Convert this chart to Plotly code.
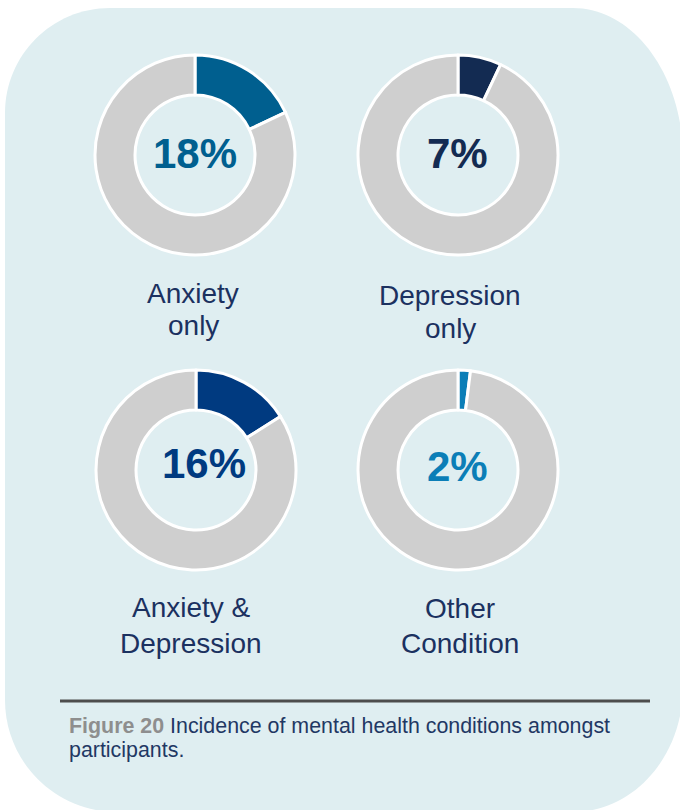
import plotly.graph_objects as go

# --- data -------------------------------------------------------------
conditions = ["Anxiety only", "Depression only", "Anxiety & Depression", "Other Condition"]
label_lines = [["Anxiety", "only"], ["Depression", "only"],
               ["Anxiety &", "Depression"], ["Other", "Condition"]]
percentages = [18, 7, 16, 2]
slice_colors = ["#005F8F", "#132B52", "#003A80", "#0B7EB7"]
caption_prefix = "Figure 20"
caption_lines = ["Incidence of mental health conditions amongst", "participants."]

# --- layout constants (pixels) -----------------------------------------
W, H = 680, 810
REST_COLOR = "#CFCFCF"
PANEL_COLOR = "#DFEEF1"
TEXT_NAVY = "#1B3160"
FONT = "Liberation Sans, Arial, sans-serif"

centers = [(195, 155), (458, 155), (196, 470), (458, 470)]
radius = 100
pct_pos = [(195, 153), (457, 153), (204, 463), (457, 467)]
label_x = [193, 450, 191, 460]
label_y = [(293, 325), (295, 328), (607, 643), (608, 643)]


def px(x):
    return x / W


def py(y):
    return 1 - y / H


fig = go.Figure()

for i, name in enumerate(conditions):
    cx, cy = centers[i]
    fig.add_trace(go.Pie(
        labels=[name, "Other participants"],
        values=[percentages[i], 100 - percentages[i]],
        marker=dict(colors=[slice_colors[i], REST_COLOR],
                    line=dict(color="white", width=3)),
        hole=0.6,
        sort=False,
        direction="clockwise",
        rotation=0,
        textinfo="none",
        hoverinfo="label+percent",
        showlegend=False,
        domain=dict(x=[px(cx - radius), px(cx + radius)],
                    y=[py(cy + radius), py(cy - radius)]),
    ))

annotations = []
for i in range(len(conditions)):
    # centre value
    x, y = pct_pos[i]
    annotations.append(dict(
        x=px(x), y=py(y), xref="paper", yref="paper",
        text=f"<b>{percentages[i]}%</b>", showarrow=False,
        xanchor="center", yanchor="middle",
        font=dict(family=FONT, size=42, color=slice_colors[i]),
    ))
    # category label under each donut
    for line, ly in zip(label_lines[i], label_y[i]):
        annotations.append(dict(
            x=px(label_x[i]), y=py(ly), xref="paper", yref="paper",
            text=line, showarrow=False, xanchor="center", yanchor="middle",
            font=dict(family=FONT, size=28, color=TEXT_NAVY),
        ))

# caption
annotations.append(dict(
    x=px(67), y=py(726), xref="paper", yref="paper", showarrow=False,
    xanchor="left", yanchor="middle",
    text=f"<b><span style='color:#8E8E8E'>{caption_prefix}</span></b> {caption_lines[0]}",
    font=dict(family=FONT, size=21.4, color="#1F3864"),
))
annotations.append(dict(
    x=px(67), y=py(750), xref="paper", yref="paper", showarrow=False,
    xanchor="left", yanchor="middle", text=caption_lines[1],
    font=dict(family=FONT, size=21.4, color="#1F3864"),
))


def panel_path(left, top, right, bottom):
    k = 0.5523
    tl = 105
    trh, trv = 110, 150
    brh, brv = 110, 125
    blh, blv = 112, 112
    pts = []
    pts.append(f"M {px(left + tl)} {py(top)}")
    pts.append(f"L {px(right - trh)} {py(top)}")
    pts.append(f"C {px(right - trh + k * trh)} {py(top)} {px(right)} {py(top + trv - k * trv)} {px(right)} {py(top + trv)}")
    pts.append(f"L {px(right)} {py(bottom - brv)}")
    pts.append(f"C {px(right)} {py(bottom - brv + k * brv)} {px(right - brh + k * brh)} {py(bottom)} {px(right - brh)} {py(bottom)}")
    pts.append(f"L {px(left + blh)} {py(bottom)}")
    pts.append(f"C {px(left + blh - k * blh)} {py(bottom)} {px(left)} {py(bottom - blv + k * blv)} {px(left)} {py(bottom - blv)}")
    pts.append(f"L {px(left)} {py(top + tl)}")
    pts.append(f"C {px(left)} {py(top + tl - k * tl)} {px(left + tl - k * tl)} {py(top)} {px(left + tl)} {py(top)}")
    pts.append("Z")
    return " ".join(pts)


shapes = [
    dict(type="path", xref="paper", yref="paper", layer="below",
         path=panel_path(5, 8, 683, 812),
         fillcolor=PANEL_COLOR, line=dict(width=0)),
    dict(type="line", xref="paper", yref="paper",
         x0=px(60), x1=px(650), y0=py(701), y1=py(701),
         line=dict(color="#4D4D4D", width=3)),
]

fig.update_layout(
    width=W, height=H,
    margin=dict(l=0, r=0, t=0, b=0),
    paper_bgcolor="white",
    plot_bgcolor="rgba(0,0,0,0)",
    annotations=annotations,
    shapes=shapes,
    showlegend=False,
)

fig.write_html("out.html")
